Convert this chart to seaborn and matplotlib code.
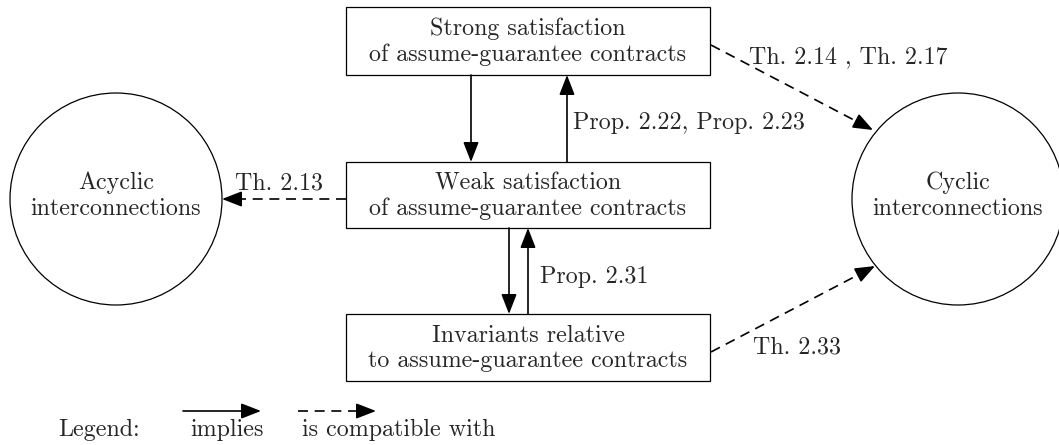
import matplotlib
matplotlib.use("Agg")
import matplotlib.pyplot as plt
import seaborn as sns
import numpy as np
from matplotlib.patches import Circle, Rectangle, FancyArrowPatch

# Diagram content
box_labels = ["Strong satisfaction\nof assume-guarantee contracts",
              "Weak satisfaction\nof assume-guarantee contracts",
              "Invariants relative\nto assume-guarantee contracts"]
circle_labels = ["Acyclic\ninterconnections", "Cyclic\ninterconnections"]
edge_labels = ["Prop. 2.22, Prop. 2.23", "Prop. 2.31", "Th. 2.13",
               "Th. 2.14 , Th. 2.17", "Th. 2.33"]
legend_labels = ["Legend:", "implies", "is compatible with"]

sns.set_theme(style="white")
plt.rcParams["font.family"] = ["cmr10", "DejaVu Serif"]
FS = 17.3

fig = plt.figure(figsize=(10.59, 4.45), dpi=100)
ax = fig.add_axes([0, 0, 1, 1])
ax.set_xlim(0, 1059)
ax.set_ylim(445, 0)
ax.axis("off")

HEAD = "-|>,head_length=0.9,head_width=0.35"
MS = 13.5
LW = 1.2


def arrow(x0, y0, x1, y1, dashed=False):
    if not dashed:
        ax.add_patch(FancyArrowPatch((x0, y0), (x1, y1), arrowstyle=HEAD,
                                     mutation_scale=MS, lw=LW, color="black",
                                     shrinkA=0, shrinkB=0))
        return
    d = np.array([x1 - x0, y1 - y0], float)
    d /= np.hypot(*d)
    hl = 0.9 * MS * 100 / 72
    bx, by = x1 - d[0] * hl, y1 - d[1] * hl
    ax.plot([x0, bx], [y0, by], color="black", lw=LW, ls=(0, (6, 4)),
            solid_capstyle="butt", dash_capstyle="butt")
    ax.add_patch(FancyArrowPatch((bx - d[0] * 2, by - d[1] * 2), (x1, y1),
                                 arrowstyle=HEAD, mutation_scale=MS, lw=LW,
                                 color="black", shrinkA=0, shrinkB=0))


# boxes
boxes = [(346, 7, 364, 68), (346, 162, 364, 66), (346, 314, 364, 67)]
for (x, y, w, h), lab in zip(boxes, box_labels):
    ax.add_patch(Rectangle((x, y), w, h, fill=False, lw=0.9, ec="black"))
    ax.text(x + w / 2, y + h / 2 + 1, lab, ha="center", va="center",
            fontsize=FS, linespacing=1.2)

# circles
circles = [(116, 199), (958, 199)]
for (cx, cy), lab in zip(circles, circle_labels):
    ax.add_patch(Circle((cx, cy), 106, fill=False, lw=0.9, ec="black"))
    ax.text(cx, cy - 3, lab, ha="center", va="center", fontsize=FS,
            linespacing=1.2)

# implications
arrow(471, 75, 471, 162)
arrow(567, 162, 567, 75)
arrow(509, 228, 509, 314)
arrow(528, 314, 528, 228)

# compatibility
arrow(346, 199, 222, 199, dashed=True)
arrow(711, 45, 873, 130, dashed=True)
arrow(711, 352, 875, 266, dashed=True)

label_pos = [(573, 129), (540, 283), (235, 190), (749, 63), (753, 353)]
for (x, y), lab in zip(label_pos, edge_labels):
    ax.text(x, y, lab, ha="left", va="baseline", fontsize=FS)

# legend
ax.text(58, 436, legend_labels[0], ha="left", va="baseline", fontsize=FS)
ax.text(190, 436, legend_labels[1], ha="left", va="baseline", fontsize=FS)
ax.text(302, 436, legend_labels[2], ha="left", va="baseline", fontsize=FS)
arrow(183, 411, 261, 411)
arrow(298, 411, 376, 411, dashed=True)

fig.savefig("out.png", dpi=100, facecolor="white")
